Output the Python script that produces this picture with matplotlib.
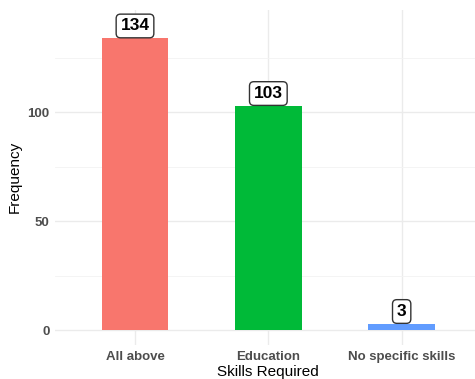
import matplotlib.pyplot as plt

skills = ['All above', 'Education', 'No specific skills']
counts = [134, 103, 3]
colors = ['#F8766D', '#00BA38', '#619CFF']

plt.rcParams['font.family'] = ['Liberation Sans', 'DejaVu Sans']

W, H = 475, 379
fig = plt.figure(figsize=(W / 100, H / 100), dpi=100)
ax = fig.add_axes([55 / W, 34 / H, 420 / W, 335 / H])

x = list(range(1, len(skills) + 1))
ax.bar(x, counts, width=0.5, color=colors, zorder=2)

for xi, c in zip(x, counts):
    ax.annotate(str(c), (xi, c), xytext=(0, 3.5), textcoords='offset points',
                ha='center', va='bottom', fontsize=12.5, fontweight='bold',
                bbox=dict(boxstyle='round,pad=0.25,rounding_size=0.25',
                          fc='white', ec='#333333', lw=1.0), zorder=3)

ax.set_xlim(0.4, 3.55)
ax.set_ylim(-6.7, 147)
ax.set_xticks(x)
ax.set_xticklabels(skills)
ax.set_yticks([0, 50, 100])
ax.set_yticks([25, 75, 125], minor=True)

ax.grid(True, which='major', color='#EBEBEB', lw=1.0, zorder=0)
ax.grid(True, which='minor', axis='y', color='#F3F3F3', lw=0.6, zorder=0)
for s in ax.spines.values():
    s.set_visible(False)
ax.tick_params(which='both', length=0, labelsize=9.5, labelcolor='#4D4D4D', pad=4)
for lab in ax.get_xticklabels() + ax.get_yticklabels():
    lab.set_fontweight('bold')

# axis titles placed in figure pixels
fig.text(268 / W, 1 - 372 / H, 'Skills Required', fontsize=11,
         ha='center', va='center')
fig.text(15 / W, 1 - 177 / H, 'Frequency', fontsize=11, rotation=90,
         ha='center', va='center')

fig.savefig('out.png', dpi=100)
